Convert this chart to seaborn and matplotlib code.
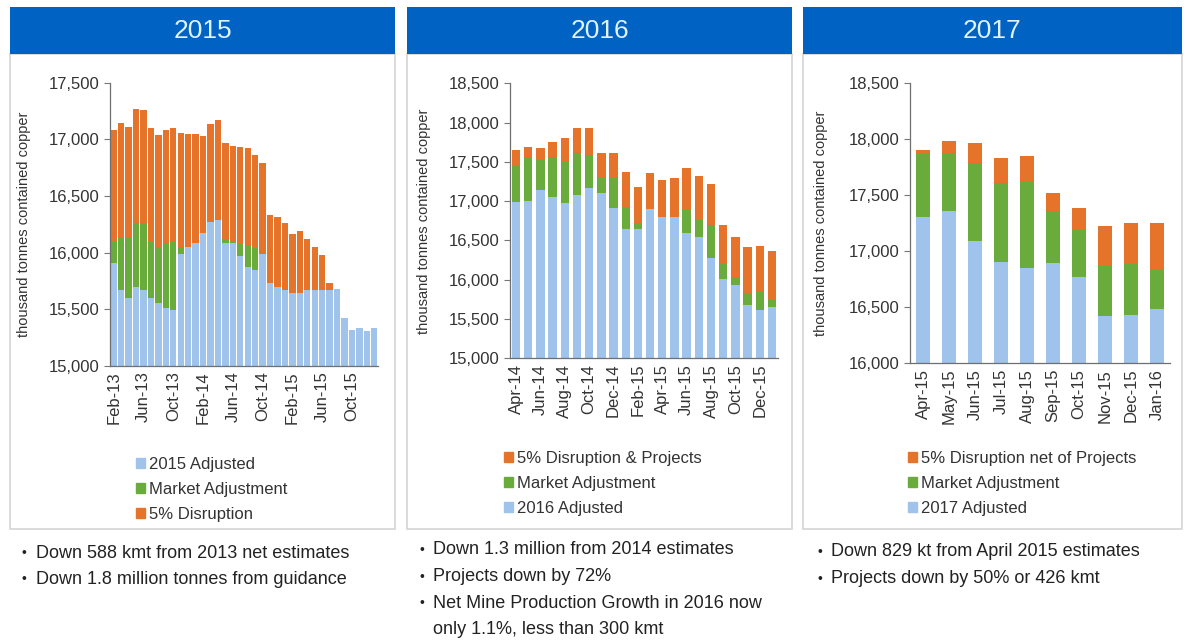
import numpy as np
import pandas as pd
import seaborn as sns
import matplotlib.pyplot as plt
from matplotlib.patches import Rectangle, Patch
from matplotlib.ticker import StrMethodFormatter, FixedLocator

# categories (monthly forecast vintages)
months_2015 = list(pd.date_range("2013-02-01", "2016-01-01", freq="MS").strftime("%b-%y"))
months_2016 = list(pd.date_range("2014-04-01", "2016-01-01", freq="MS").strftime("%b-%y"))
months_2017 = list(pd.date_range("2015-04-01", "2016-01-01", freq="MS").strftime("%b-%y"))

# 2015 panel, kt
adjusted_2015 = [15906, 15670, 15597, 15700, 15670, 15597, 15553, 15509, 15494, 15990,
                 16053, 16082, 16170, 16270, 16288, 16082, 16082, 15975, 15875, 15845,
                 15990, 15729, 15700, 15670, 15641, 15647, 15670, 15670, 15670, 15670,
                 15676, 15420, 15318, 15332, 15312, 15332]
market_2015 = [191, 471, 529, 558, 588, 500, 500, 573, 603, 60,
               0, 0, 0, 0, 0, 40, 15, 105, 185, 195,
               0, 0, 0, 0, 0, 0, 0, 0, 0, 0,
               0, 0, 0, 0, 0, 0]
disruption_2015 = [985, 1000, 985, 1006, 1000, 999, 984, 1000, 999, 1008,
                   990, 961, 859, 862, 882, 842, 843, 855, 860, 821,
                   803, 603, 617, 588, 523, 547, 447, 383, 309, 59,
                   0, 0, 0, 0, 0, 0]

# 2016 panel, kt
adjusted_2016 = [16995, 17007, 17143, 17050, 16973, 17080, 17164, 17101, 16910, 16642, 16642,
                 16897, 16795, 16795, 16592, 16541, 16273, 16006, 15934, 15679, 15615, 15658]
market_2016 = [467, 539, 382, 509, 531, 538, 425, 191, 382, 289, 77,
               0, 0, 0, 297, 220, 425, 195, 85, 149, 234, 85]
disruption_2016 = [190, 149, 157, 200, 297, 310, 339, 327, 327, 446, 458,
                   467, 476, 497, 530, 565, 522, 497, 530, 594, 581, 628]

# 2017 panel, kt
adjusted_2017 = [17309, 17363, 17092, 16908, 16848, 16899, 16774, 16423, 16432, 16485]
market_2017 = [560, 518, 694, 705, 774, 461, 416, 446, 452, 348]
disruption_2017 = [36, 104, 178, 223, 229, 164, 194, 357, 366, 423]

bullets_2015 = ["Down 588 kmt from 2013 net estimates",
                "Down 1.8 million tonnes from guidance"]
bullets_2016 = ["Down 1.3 million from 2014 estimates",
                "Projects down by 72%",
                "Net Mine Production Growth in 2016 now\nonly 1.1%, less than 300 kmt"]
bullets_2017 = ["Down 829 kt from April 2015 estimates",
                "Projects down by 50% or 426 kmt"]

BLUE = "#9fc3ea"
GREEN = "#6aac3c"
ORANGE = "#e6732a"
HEADER = "#0062c2"

W, H = 1184, 641
sns.set_style("white")
plt.rcParams["font.family"] = ["Liberation Sans", "DejaVu Sans"]

fig = plt.figure(figsize=(W / 100, H / 100), dpi=100)


def px_rect(x0, y0, x1, y1):
    return [x0 / W, 1 - y1 / H, (x1 - x0) / W, (y1 - y0) / H]


def panel(box, axbox, title, months, adj, mkt, dis, names, legend_top, width,
          ylim, label_step, tick_step, legend_xy, bullets, bullet_xy, ylabel_x):
    # frame + blue header
    x0, y0, x1, y1 = box
    fig.patches.append(Rectangle((x0 / W, 1 - y1 / H), (x1 - x0) / W, (y1 - y0) / H,
                                 transform=fig.transFigure, facecolor="none",
                                 edgecolor="#d4d4d4", lw=1.2, zorder=-5))
    fig.patches.append(Rectangle((x0 / W, 1 - 54 / H), (x1 - x0) / W, 47 / H,
                                 transform=fig.transFigure, facecolor=HEADER,
                                 edgecolor="none", zorder=-4))
    fig.text((x0 + x1) / 2 / W, 1 - 31 / H, title, ha="center", va="center",
             fontsize=19, color="#dff3ff")

    ax = fig.add_axes(px_rect(*axbox))
    ax.patch.set_alpha(0)
    adj = np.array(adj)
    mid = adj + np.array(mkt)
    top = mid + np.array(dis)
    for vals, c in [(top, ORANGE), (mid, GREEN), (adj, BLUE)]:
        sns.barplot(x=months, y=vals, order=months, color=c, saturation=1,
                    width=width, linewidth=0, errorbar=None, ax=ax)

    n = len(months)
    ax.set_ylim(*ylim)
    ax.set_xlim(-0.5, n - 0.5)
    ax.yaxis.set_major_formatter(StrMethodFormatter("{x:,.0f}"))
    ax.set_xticks(range(0, n, label_step))
    ax.set_xticklabels(months[::label_step], rotation=90)
    ax.xaxis.set_minor_locator(FixedLocator(np.arange(-0.5, n, tick_step)))
    ax.tick_params(axis="x", which="major", length=0, pad=4, labelsize=12, colors="#333333")
    ax.tick_params(axis="x", which="minor", length=4, width=0.8, color="#777777")
    ax.tick_params(axis="y", length=4, width=0.8, color="#777777", labelsize=12,
                   labelcolor="#333333", left=True)
    sns.despine(ax=ax)
    for s in ("left", "bottom"):
        ax.spines[s].set_color("#6f6f6f")
        ax.spines[s].set_linewidth(0.9)
    ax.set_xlabel("")
    ax.set_ylabel("thousand tonnes contained copper", fontsize=10.5, color="#333333")
    # label anchor is its right edge, so shift by ~half the glyph height
    ax.yaxis.set_label_coords(-(axbox[0] - ylabel_x - 6) / (axbox[2] - axbox[0]), 0.5)

    handles = [Patch(color=c) for c in (BLUE, GREEN, ORANGE)]
    if not legend_top:
        handles = handles[::-1]
    ax.legend(handles, names, loc="upper left",
              bbox_to_anchor=(legend_xy[0] / W, 1 - legend_xy[1] / H),
              bbox_transform=fig.transFigure, frameon=False, fontsize=12,
              handlelength=0.55, handleheight=0.55, handletextpad=0.25,
              labelspacing=0.6, borderpad=0, borderaxespad=0, labelcolor="#333333")

    bx, by = bullet_xy
    for item in bullets:
        for k, line in enumerate(item.split("\n")):
            if k == 0:
                fig.text(bx / W, 1 - by / H, "•", fontsize=10, color="#222222",
                         va="center")
            fig.text((bx + 14) / W, 1 - by / H, line, fontsize=13, color="#222222",
                     va="center")
            by += 26.5
    return ax


panel((10, 54, 395, 529), (110, 82.7, 378, 366), "2015", months_2015,
      adjusted_2015, market_2015, disruption_2015,
      ["2015 Adjusted", "Market Adjustment", "5% Disruption"], True, 0.86,
      (15000, 17500), 4, 4, (136, 457), bullets_2015, (22, 553), 25)

panel((407, 54, 792, 529), (510, 83.4, 778, 358.3), "2016", months_2016,
      adjusted_2016, market_2016, disruption_2016,
      ["5% Disruption & Projects", "Market Adjustment", "2016 Adjusted"], False, 0.68,
      (15000, 18500), 2, 2, (504, 451), bullets_2016, (419, 550), 425)

panel((803, 54, 1182, 529), (910, 83.3, 1170, 363.3), "2017", months_2017,
      adjusted_2017, market_2017, disruption_2017,
      ["5% Disruption net of Projects", "Market Adjustment", "2017 Adjusted"], False, 0.55,
      (16000, 18500), 1, 1, (908, 451), bullets_2017, (817, 552), 822)

fig.savefig("out.png", dpi=100)
